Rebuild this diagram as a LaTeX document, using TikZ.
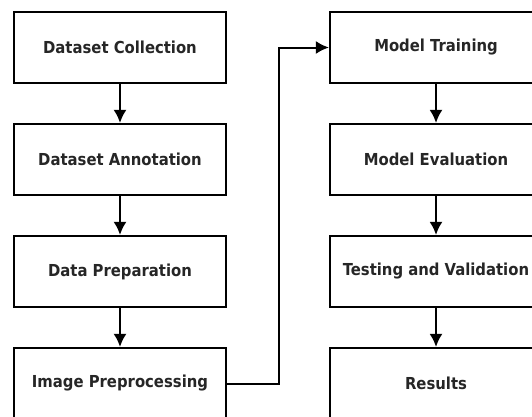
\documentclass[tikz,border=0pt]{standalone}
\usepackage{fontspec}
\setmainfont{DejaVu Sans Condensed}
\usetikzlibrary{arrows.meta}
\tikzset{
  stepbox/.style={draw, line width=2.2pt, minimum width=212pt, minimum height=71pt,
    inner sep=0pt, font=\fontsize{16.5}{18}\selectfont\bfseries, text=black!85},
  flow/.style={->, line width=2pt}
}
\begin{document}
\begin{tikzpicture}[>={Latex[length=13pt,width=13pt]}, x=1pt, y=-1pt]
\useasboundingbox (0,0) rectangle (532,416);
\node[stepbox] (collect) at (120,47.5) {Dataset Collection};
\node[stepbox] (annot) at (120,159.5) {Dataset Annotation};
\node[stepbox] (prep) at (120,271.5) {Data Preparation};
\node[stepbox] (preproc) at (120,383.5) {Image Preprocessing};
\node[stepbox] (train) at (436,47.5) {Model Training};
\node[stepbox] (eval) at (436,159.5) {Model Evaluation};
\node[stepbox] (test) at (436,271.5) {Testing and Validation};
\node[stepbox] (result) at (436,383.5) {Results};
\foreach \a/\b in {collect/annot, annot/prep, prep/preproc, train/eval, eval/test, test/result}
{
   \draw[flow] (\a)--(\b);
}
\draw[flow] (preproc.east)--(279,383.5)|-(train.west);
\end{tikzpicture}
\end{document}
